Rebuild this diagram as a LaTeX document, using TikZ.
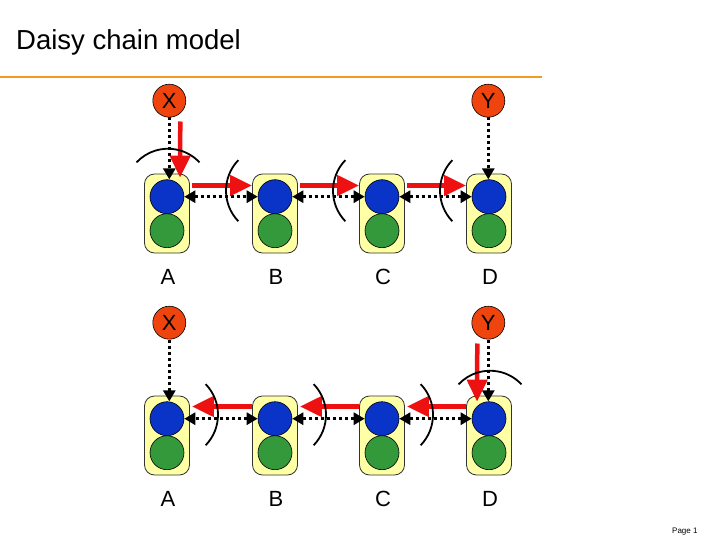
\documentclass[tikz,border=0pt]{standalone}
\usepackage{fontspec}
\setmainfont{Liberation Sans}
\usetikzlibrary{arrows.meta, calc}
\usepackage{xcolor}
\definecolor{daisyred}{HTML}{EE1111}
\definecolor{daisyrule}{HTML}{F49A1C}
\definecolor{daisysrc}{HTML}{F0440F}
\definecolor{daisyblue}{HTML}{0A33C8}
\definecolor{daisygreen}{HTML}{33993A}
\definecolor{daisyyellow}{HTML}{FFFFA6}

\begin{document}
\begin{tikzpicture}[x=1pt, y=-1pt,
  >={Triangle[length=11pt,width=12pt]},
  station/.style={draw=black!80, line width=0.8pt, fill=daisyyellow,
    rounded corners=10pt, minimum width=45pt, minimum height=79pt},
  port/.style={circle, draw, line width=0.6pt, fill=daisyblue,
    minimum size=34pt, inner sep=0pt},
  core/.style={circle, draw, line width=0.6pt, fill=daisygreen,
    minimum size=34pt, inner sep=0pt},
  src/.style={circle, draw, line width=0.6pt, fill=daisysrc,
    minimum size=33pt, inner sep=0pt, font=\fontsize{22}{22}\selectfont},
  lbl/.style={font=\fontsize{22}{22}\selectfont},
  redarrow/.style={daisyred, line width=4.5pt,
    -{Triangle[length=22pt,width=20pt]}},
  dotarrow/.style={black, line width=3.2pt, dash pattern=on 3pt off 3pt, ->},
  wave/.style={black, line width=1.8pt}
]
  \useasboundingbox (0,0) rectangle (720,540);

  % Title and rule
  \node[font=\fontsize{27.5}{28}\selectfont, anchor=base west, inner sep=0pt]
    (title) at (16,50) {Daisy chain model};
  \draw[daisyrule, line width=2.5pt] (0,77) -- (542,77);

  % Stations, two rows
  \foreach \r/\dy in {1/0, 2/222}{
    \foreach \n/\x in {A/167, B/275, C/382, D/489}{
      \node[station] (st\n\r) at (\x, 213.5+\dy) {};
      \node[port] (port\n\r) at (\x, 196.7+\dy) {};
      \node[core] (core\n\r) at (\x, 230.7+\dy) {};
      \node[lbl] (lbl\n\r) at (\x+1, 277+\dy) {\n};
    }
  }

  % Sources
  \node[src] (X1) at (169.3, 100.7) {X};
  \node[src] (Y1) at (488.3, 100.7) {Y};
  \node[src] (X2) at (169.3, 322.7) {X};
  \node[src] (Y2) at (488.3, 322.7) {Y};

  % Upper row: X enters at A, passed on to D
  \draw[dotarrow] (X1) -- (X1 |- portA1.north);
  \draw[dotarrow] (Y1) -- (Y1 |- portD1.north);
  \draw[redarrow] ([xshift=11pt,yshift=-4pt]X1.south) -- ([xshift=13pt,yshift=-4pt]stA1.north);
  \foreach \a/\b in {A/B, B/C, C/D}{
    \draw[dotarrow, <->] (port\a1) -- (port\b1);
    \draw[redarrow] ([xshift=2pt,yshift=28pt]st\a1.east) -- ([yshift=28pt]st\b1.west);
  }

  % Lower row: Y enters at D, passed back to A
  \draw[dotarrow] (X2) -- (X2 |- portA2.north);
  \draw[dotarrow] (Y2) -- (Y2 |- portD2.north);
  \draw[redarrow] ([xshift=-11pt,yshift=-4pt]Y2.south) -- ([xshift=-12pt,yshift=-6pt]stD2.north);
  \foreach \a/\b in {D/C, C/B, B/A}{
    \draw[dotarrow, <->] (port\a2) -- (port\b2);
    \draw[redarrow] ([yshift=29pt]st\a2.west) -- ([xshift=2pt,yshift=29pt]st\b2.east);
  }

  % Wave fronts
  \draw[wave] ($(portA1)+(1,-5)+(223:43)$) arc[start angle=223, end angle=317, radius=43];
  \foreach \n in {B,C,D}
    \draw[wave] ($(port\n1)+(-5,-6)+(136:44)$) arc[start angle=136, end angle=224, radius=44];
  \foreach \n in {A,B,C}
    \draw[wave] ($(port\n2)+(7,-4)+(-44:44)$) arc[start angle=-44, end angle=44, radius=44];
  \draw[wave] ($(portD2)+(1,-5)+(223:43)$) arc[start angle=223, end angle=317, radius=43];

  % Footer
  \node[font=\fontsize{8}{8}\selectfont, anchor=base west, inner sep=0pt]
    (page) at (672,533) {Page 1};
\end{tikzpicture}
\end{document}
